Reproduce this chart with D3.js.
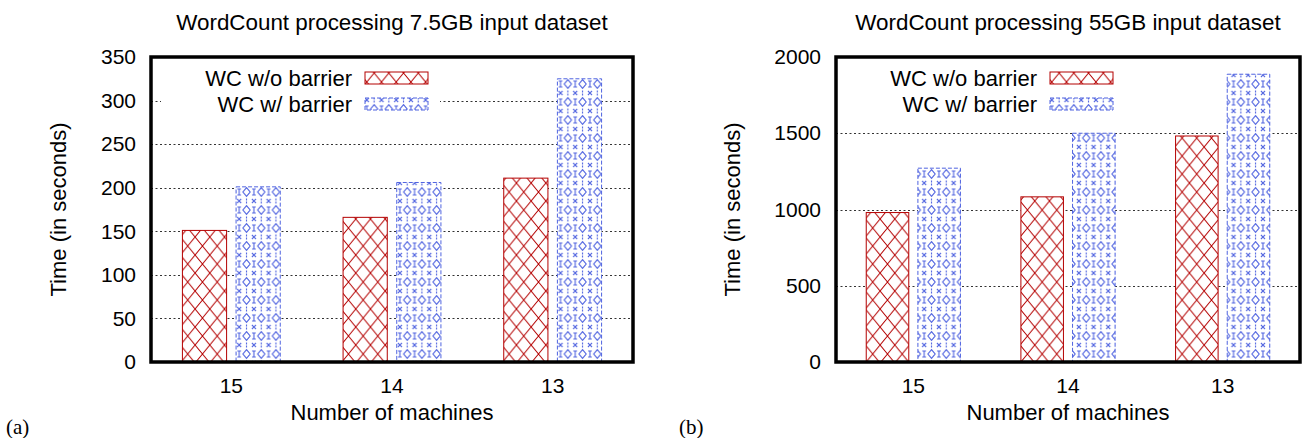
<!DOCTYPE html>
<html>
<head>
<meta charset="utf-8">
<script src="https://cdn.jsdelivr.net/npm/d3@7"></script>
<style>
  body { margin: 0; background: #fff; }
  text { font-family: "Liberation Sans", Arial, Helvetica, sans-serif; fill: #000; }
</style>
</head>
<body>
<div id="chart"></div>
<script>
const machines = ["15", "14", "13"];
const seriesNames = ["WC w/o barrier", "WC w/ barrier"];

const smallNoBarrier = [151, 166, 211];
const smallBarrier = [201, 206, 325];
const smallTicks = [0, 50, 100, 150, 200, 250, 300, 350];

const largeNoBarrier = [980, 1083, 1482];
const largeBarrier = [1271, 1500, 1887];
const largeTicks = [0, 500, 1000, 1500, 2000];

const red = "#b40000";
const blue = "#4f63e0";

const svg = d3
  .select("#chart")
  .append("svg")
  .attr("width", 1309)
  .attr("height", 438);

// fill patterns (gnuplot style)
const defs = svg.append("defs");
const pw = 14.7, ph = 18;

const hatch = defs
  .append("pattern")
  .attr("id", "hatchRed")
  .attr("patternUnits", "userSpaceOnUse")
  .attr("width", pw)
  .attr("height", ph);
hatch.append("rect").attr("width", pw).attr("height", ph).attr("fill", "#fff");
hatch
  .append("path")
  .attr("d", `M${-pw / 4},${-ph / 4}L${pw * 1.25},${ph * 1.25}M${pw * 1.25},${-ph / 4}L${-pw / 4},${ph * 1.25}`)
  .attr("stroke", red)
  .attr("stroke-width", 1)
  .attr("fill", "none");

const dots = defs
  .append("pattern")
  .attr("id", "dotsBlue")
  .attr("patternUnits", "userSpaceOnUse")
  .attr("width", pw)
  .attr("height", ph);
dots.append("rect").attr("width", pw).attr("height", ph).attr("fill", "#fff");
const cx = pw / 2, cy = ph / 2, dx = 3.6, dy = 4.4;
dots
  .append("path")
  .attr("d", `M${cx},${cy - dy}L${cx + dx},${cy}L${cx},${cy + dy}L${cx - dx},${cy}Z`)
  .attr("stroke", blue)
  .attr("stroke-width", 1.1)
  .attr("fill", "none");
// small crosses at the corners, "I" marks on the side edges
dots
  .append("path")
  .attr("d", [[0, 0], [pw, 0], [0, ph], [pw, ph]]
    .map(([px, py]) => `M${px - 2},${py - 2}L${px + 2},${py + 2}M${px + 2},${py - 2}L${px - 2},${py + 2}`)
    .join("") +
    [[0, cy], [pw, cy]]
      .map(([px, py]) => `M${px},${py - 3}L${px},${py + 3}M${px - 1.8},${py - 3}L${px + 1.8},${py - 3}M${px - 1.8},${py + 3}L${px + 1.8},${py + 3}`)
      .join("") +
    `M${cx},0.5L${cx},2.5M${cx},${ph - 2.5}L${cx},${ph - 0.5}`)
  .attr("stroke", blue)
  .attr("stroke-width", 1.1)
  .attr("fill", "none");

const panels = [
  {
    label: "(a)", labelX: 6,
    title: "WordCount processing 7.5GB input dataset",
    left: 151, right: 633, yLabelX: -85,
    noBarrier: smallNoBarrier, barrier: smallBarrier,
    ticks: smallTicks,
  },
  {
    label: "(b)", labelX: 679,
    title: "WordCount processing 55GB input dataset",
    left: 836, right: 1300, yLabelX: -96,
    noBarrier: largeNoBarrier, barrier: largeBarrier,
    ticks: largeTicks,
  },
];

const plotTop = 57, plotBottom = 362;
const height = plotBottom - plotTop;

panels.forEach((p) => {
  const width = p.right - p.left;
  const g = svg.append("g").attr("transform", `translate(${p.left},${plotTop})`);
  const yMax = d3.max(p.ticks);

  const x = d3.scaleBand().domain(machines).range([0, width]).padding(0);
  const inner = d3
    .scaleBand()
    .domain(seriesNames)
    .range([x.bandwidth() * 0.1955, x.bandwidth() * 0.8045])
    .paddingInner(0.1766)
    .paddingOuter(0);
  const y = d3.scaleLinear().domain([0, yMax]).range([height, 0]);

  // dotted grid
  g.append("g")
    .selectAll("line")
    .data(p.ticks.filter((t) => t > 0 && t < yMax))
    .enter()
    .append("line")
    .attr("x1", 0)
    .attr("x2", width)
    .attr("y1", (d) => Math.round(y(d)) + 0.5)
    .attr("y2", (d) => Math.round(y(d)) + 0.5)
    .attr("stroke", "#333")
    .attr("stroke-width", 1)
    .attr("stroke-dasharray", "2,2.5");

  // bars
  const rows = machines.map((m, i) => ({
    machine: m,
    values: [
      { series: seriesNames[0], value: p.noBarrier[i] },
      { series: seriesNames[1], value: p.barrier[i] },
    ],
  }));

  const groups = g
    .selectAll(".grp")
    .data(rows)
    .enter()
    .append("g")
    .attr("class", "grp")
    .attr("transform", (d) => `translate(${x(d.machine)},0)`);

  groups
    .selectAll("rect")
    .data((d) => d.values)
    .enter()
    .append("rect")
    .attr("x", (d) => inner(d.series))
    .attr("y", (d) => y(d.value))
    .attr("width", inner.bandwidth())
    .attr("height", (d) => height - y(d.value))
    .attr("fill", (d) => (d.series === seriesNames[0] ? "url(#hatchRed)" : "url(#dotsBlue)"))
    .attr("stroke", (d) => (d.series === seriesNames[0] ? red : blue))
    .attr("stroke-width", 1)
    .attr("stroke-dasharray", (d) => (d.series === seriesNames[0] ? null : "4,2"));

  // legend
  const legend = g.append("g").attr("transform", "translate(10,7)");
  legend.append("rect").attr("width", 279).attr("height", 52).attr("fill", "#fff");
  seriesNames.forEach((s, i) => {
    const ly = 14 + i * 26;
    legend
      .append("text")
      .attr("x", 191)
      .attr("y", ly + 7.5)
      .attr("text-anchor", "end")
      .style("font-size", "22px")
      .text(s);
    legend
      .append("rect")
      .attr("x", 204)
      .attr("y", ly - 6)
      .attr("width", 63)
      .attr("height", 12)
      .attr("fill", i === 0 ? "url(#hatchRed)" : "url(#dotsBlue)")
      .attr("stroke", i === 0 ? red : blue)
      .attr("stroke-width", 1)
      .attr("stroke-dasharray", i === 0 ? null : "4,2");
  });

  // axes
  const yAxis = g
    .append("g")
    .call(d3.axisLeft(y).tickValues(p.ticks).tickFormat(d3.format("d")).tickSize(0).tickPadding(15));
  yAxis.select(".domain").remove();
  yAxis.attr("font-family", null).attr("font-size", null);
  yAxis.selectAll("text").style("font-size", "21px");

  const xAxis = g
    .append("g")
    .attr("transform", `translate(0,${height})`)
    .call(d3.axisBottom(x).tickSize(0).tickPadding(16));
  xAxis.select(".domain").remove();
  xAxis.attr("font-family", null).attr("font-size", null);
  xAxis.selectAll("text").style("font-size", "21px");

  // frame
  g.append("rect")
    .attr("width", width)
    .attr("height", height)
    .attr("fill", "none")
    .attr("stroke", "#000")
    .attr("stroke-width", 3.5);

  // titles and labels
  g.append("text")
    .attr("x", width / 2)
    .attr("y", -27)
    .attr("text-anchor", "middle")
    .style("font-size", "22.4px")
    .text(p.title);

  g.append("text")
    .attr("x", width / 2)
    .attr("y", height + 58)
    .attr("text-anchor", "middle")
    .style("font-size", "22px")
    .text("Number of machines");

  g.append("text")
    .attr("transform", "rotate(-90)")
    .attr("x", -height / 2)
    .attr("y", p.yLabelX)
    .attr("text-anchor", "middle")
    .style("font-size", "22px")
    .text("Time (in seconds)");

  svg
    .append("text")
    .attr("x", p.labelX)
    .attr("y", 434)
    .style("font-family", "'Liberation Serif', 'Times New Roman', serif")
    .style("font-size", "21px")
    .text(p.label);
});
</script>
</body>
</html>
